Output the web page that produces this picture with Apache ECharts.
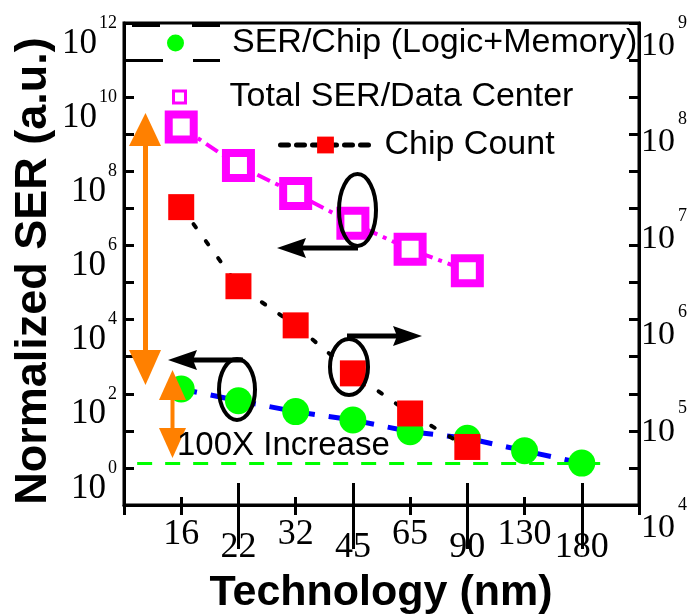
<!DOCTYPE html>
<html>
<head>
<meta charset="utf-8">
<script src="https://cdn.jsdelivr.net/npm/echarts@6/dist/echarts.min.js"></script>
<style>
  html, body { margin: 0; padding: 0; background: #fff; }
  #chart { width: 687px; height: 614px; }
</style>
</head>
<body>
<div id="chart"></div>
<script>
// Technology nodes (nm), plotted at positions 1..8 of the x scale
const technologies = ['16', '22', '32', '45', '65', '90', '130', '180'];
// SER per chip, normalized (left axis)
const serPerChip = [134, 65, 33, 19.6, 9.5, 6.3, 2.9, 1.35];
// Total SER per data center (left axis), 16..90 nm
const totalSerDataCenter = [1.56e9, 1.43e8, 2.52e7, 3.95e6, 7.9e5, 2.08e5];
// Chip count per data center (right axis), 16..90 nm
const chipCount = [1.23e7, 1.86e6, 7.3e5, 2.32e5, 8.9e4, 4.0e4];
// Axis decades
const leftTickExponents = [-1, 0, 1, 2, 3, 4, 5, 6, 7, 8, 9, 10, 11, 12];
const leftLabelExponents = [0, 2, 4, 6, 8, 10, 12];
const rightLabelExponents = [4, 5, 6, 7, 8, 9];

const BLACK = '#000';
const pow10 = e => Math.pow(10, e);
const toPoints = vals => vals.map((v, i) => [i + 1, v]);
const expLabel = v => '{b|10}{s|' + Math.round(Math.log10(v)) + '}';

const xBase = {
  type: 'value', min: 0, max: 9, position: 'bottom',
  splitLine: { show: false }
};
const tickLine = { color: BLACK, width: 3 };

const option = {
  animation: false,
  backgroundColor: '#fff',
  grid: {
    left: 124, top: 23, width: 515, height: 482,
    outerBoundsMode: 'none', containLabel: false,
    show: true, borderColor: BLACK, borderWidth: 3, backgroundColor: 'transparent'
  },
  xAxis: [
    {
      ...xBase,
      axisLine: { show: true, onZero: false, lineStyle: { color: BLACK, width: 3 } },
      axisTick: { show: true, inside: false, length: 10, customValues: [0, 1, 3, 5, 7, 9], lineStyle: tickLine },
      axisLabel: {
        customValues: technologies.map((t, i) => i + 1),
        margin: 0,
        formatter: v => {
          const i = Math.round(v) - 1;
          return (i % 2 === 0 ? '{hi|' : '{lo|') + technologies[i] + '}';
        },
        rich: {
          hi: { fontFamily: 'Liberation Serif', fontSize: 36, color: BLACK, lineHeight: 60 },
          lo: { fontFamily: 'Liberation Serif', fontSize: 36, color: BLACK, lineHeight: 86 }
        }
      }
    },
    {
      ...xBase,
      axisLine: { show: false, onZero: false },
      axisTick: { show: true, inside: true, length: 8, customValues: [1, 3, 5, 7], lineStyle: tickLine },
      axisLabel: { show: false }
    },
    {
      ...xBase,
      axisLine: { show: false, onZero: false },
      axisTick: { show: true, inside: true, length: 22, customValues: [2, 4, 6, 8], lineStyle: tickLine },
      axisLabel: { show: false }
    },
    {
      ...xBase,
      axisLine: { show: false, onZero: false },
      axisTick: { show: true, inside: false, length: 44, customValues: [2, 4, 6, 8], lineStyle: tickLine },
      axisLabel: { show: false }
    }
  ],
  yAxis: [
    {
      type: 'log', logBase: 10, min: 0.1, max: 1e12, position: 'left',
      splitLine: { show: false },
      axisLine: { show: true, onZero: false, lineStyle: { color: BLACK, width: 3 } },
      axisTick: { show: true, inside: true, length: 10, customValues: leftTickExponents.map(pow10), lineStyle: tickLine },
      axisLabel: {
        customValues: leftLabelExponents.map(pow10),
        showMinLabel: true, showMaxLabel: true, hideOverlap: false,
        margin: 7,
        formatter: expLabel,
        rich: {
          b: { fontFamily: 'Liberation Serif', fontSize: 35, color: BLACK, lineHeight: 34, verticalAlign: 'bottom' },
          s: { fontFamily: 'Liberation Serif', fontSize: 18, color: BLACK, lineHeight: 76, verticalAlign: 'middle', padding: [0, 0, 0, 2] }
        }
      }
    },
    {
      type: 'log', logBase: 10, min: 1e4, max: 1e9, position: 'right',
      splitLine: { show: false },
      axisLine: { show: true, onZero: false, lineStyle: { color: BLACK, width: 3 } },
      axisTick: { show: false },
      axisLabel: {
        customValues: rightLabelExponents.map(pow10),
        showMinLabel: true, showMaxLabel: true, hideOverlap: false,
        margin: 2,
        formatter: expLabel,
        rich: {
          b: { fontFamily: 'Liberation Serif', fontSize: 34, color: BLACK, lineHeight: 34, verticalAlign: 'bottom' },
          s: { fontFamily: 'Liberation Serif', fontSize: 18, color: BLACK, lineHeight: 80, verticalAlign: 'middle', padding: [0, 0, 0, 3] }
        }
      }
    },
    {
      // decade ticks mirrored on the right-hand frame
      type: 'log', logBase: 10, min: 0.1, max: 1e12, position: 'right',
      splitLine: { show: false },
      axisLine: { show: false, onZero: false },
      axisTick: { show: true, inside: true, length: 10, customValues: leftTickExponents.map(pow10), lineStyle: tickLine },
      axisLabel: { show: false }
    }
  ],
  legend: [
    {
      data: ['SER/Chip (Logic+Memory)'], left: 167, top: 26, padding: 0,
      icon: 'circle', itemWidth: 17, itemHeight: 17, selectedMode: false,
      itemStyle: { color: '#00ff00' },
      textStyle: { fontFamily: 'Liberation Sans', fontSize: 34, color: BLACK, padding: [0, 0, 0, 43] }
    },
    {
      data: ['Total SER/Data Center'], left: 172, top: 80, padding: 0,
      icon: 'rect', itemWidth: 12, itemHeight: 12, selectedMode: false,
      itemStyle: { color: '#fff', borderColor: '#ff00ff', borderWidth: 3 },
      textStyle: { fontFamily: 'Liberation Sans', fontSize: 34, color: BLACK, padding: [0, 0, 0, 39] }
    },
    {
      data: ['Chip Count'], left: 278, top: 128, padding: 0,
      itemWidth: 90, itemHeight: 21, selectedMode: false,
      lineStyle: { color: BLACK, width: 5, type: [8, 8] },
      textStyle: { fontFamily: 'Liberation Sans', fontSize: 34, color: BLACK, padding: [0, 0, 0, 9] }
    }
  ],
  series: [
    {
      name: 'SER/Chip (Logic+Memory)', type: 'line',
      xAxisIndex: 0, yAxisIndex: 0,
      data: toPoints(serPerChip),
      symbol: 'circle', symbolSize: 27,
      itemStyle: { color: '#00ff00' },
      lineStyle: { color: '#0000ff', width: 5, type: [16, 14] },
      markLine: {
        silent: true, symbol: 'none', label: { show: false },
        lineStyle: { color: '#00ff00', width: 3, type: [15, 13] },
        data: [[{ coord: [0.23, serPerChip[7]] }, { coord: [8.42, serPerChip[7]] }]]
      },
      z: 3
    },
    {
      name: 'Total SER/Data Center', type: 'line',
      xAxisIndex: 0, yAxisIndex: 0,
      data: toPoints(totalSerDataCenter),
      symbol: 'rect', symbolSize: 25,
      itemStyle: { color: '#fff', borderColor: '#ff00ff', borderWidth: 8 },
      lineStyle: { color: '#ff00ff', width: 4, type: [14, 6, 4, 6] },
      z: 4
    },
    {
      name: 'Chip Count', type: 'line',
      xAxisIndex: 0, yAxisIndex: 1,
      data: toPoints(chipCount),
      symbol: 'rect', symbolSize: 26,
      itemStyle: { color: '#ff0000' },
      lineStyle: { color: BLACK, width: 4, type: [4, 17], cap: 'round' },
      z: 5
    }
  ],
  graphic: [
    // dashed strokes of the first legend entry
    { type: 'rect', shape: { x: 132, y: 24, width: 28, height: 3 }, style: { fill: BLACK }, z: 50 },
    { type: 'rect', shape: { x: 192, y: 24, width: 28, height: 3 }, style: { fill: BLACK }, z: 50 },
    { type: 'rect', shape: { x: 133, y: 59, width: 30, height: 3 }, style: { fill: BLACK }, z: 50 },
    { type: 'rect', shape: { x: 193, y: 59, width: 27, height: 3 }, style: { fill: BLACK }, z: 50 },
    // orange double arrows
    { type: 'line', shape: { x1: 145.5, y1: 140, x2: 145.5, y2: 355 }, style: { stroke: '#ff8000', lineWidth: 5 }, z: 60 },
    { type: 'polygon', shape: { points: [[145.5, 113], [129, 146], [161, 146]] }, style: { fill: '#ff8000' }, z: 60 },
    { type: 'polygon', shape: { points: [[145.5, 385], [129, 350], [161, 350]] }, style: { fill: '#ff8000' }, z: 60 },
    { type: 'line', shape: { x1: 172.5, y1: 395, x2: 172.5, y2: 433 }, style: { stroke: '#ff8000', lineWidth: 4 }, z: 60 },
    { type: 'polygon', shape: { points: [[172.5, 370], [159, 400], [186, 400]] }, style: { fill: '#ff8000' }, z: 60 },
    { type: 'polygon', shape: { points: [[172.5, 458], [159, 428], [186, 428]] }, style: { fill: '#ff8000' }, z: 60 },
    // ellipses around the highlighted points
    { type: 'ellipse', shape: { cx: 357.5, cy: 210, rx: 18.5, ry: 36 }, style: { fill: null, stroke: BLACK, lineWidth: 4 }, z: 60 },
    { type: 'ellipse', shape: { cx: 349, cy: 367, rx: 19, ry: 28 }, style: { fill: null, stroke: BLACK, lineWidth: 4 }, z: 60 },
    { type: 'ellipse', shape: { cx: 237, cy: 389.5, rx: 18, ry: 30.5 }, style: { fill: null, stroke: BLACK, lineWidth: 4 }, z: 60 },
    // arrows pointing to the relevant axis
    { type: 'line', shape: { x1: 358, y1: 248, x2: 300, y2: 248 }, style: { stroke: BLACK, lineWidth: 5 }, z: 60 },
    { type: 'polygon', shape: { points: [[277, 248], [306, 238], [302, 248], [306, 258]] }, style: { fill: BLACK }, z: 60 },
    { type: 'line', shape: { x1: 347, y1: 336, x2: 400, y2: 336 }, style: { stroke: BLACK, lineWidth: 5 }, z: 60 },
    { type: 'polygon', shape: { points: [[422, 336], [393, 326], [397, 336], [393, 346]] }, style: { fill: BLACK }, z: 60 },
    { type: 'line', shape: { x1: 243, y1: 360, x2: 190, y2: 360 }, style: { stroke: BLACK, lineWidth: 5 }, z: 60 },
    { type: 'polygon', shape: { points: [[168, 360], [197, 350], [193, 360], [197, 370]] }, style: { fill: BLACK }, z: 60 },
    // annotation text
    { type: 'text', x: 177, y: 446, z: 61,
      style: { text: '100X Increase', font: '33px "Liberation Sans"', fill: BLACK, align: 'left', verticalAlign: 'middle' } },
    // axis titles
    { type: 'text', x: 381, y: 593, z: 61,
      style: { text: 'Technology (nm)', font: 'bold 43px "Liberation Sans"', fill: BLACK, align: 'center', verticalAlign: 'middle' } },
    { type: 'text', x: 34, y: 271, rotation: Math.PI / 2, z: 61,
      style: { text: 'Normalized SER (a.u.)', font: 'bold 45px "Liberation Sans"', fill: BLACK, align: 'center', verticalAlign: 'middle' } }
  ]
};

const chart = echarts.init(document.getElementById('chart'));
chart.setOption(option);
</script>
</body>
</html>
